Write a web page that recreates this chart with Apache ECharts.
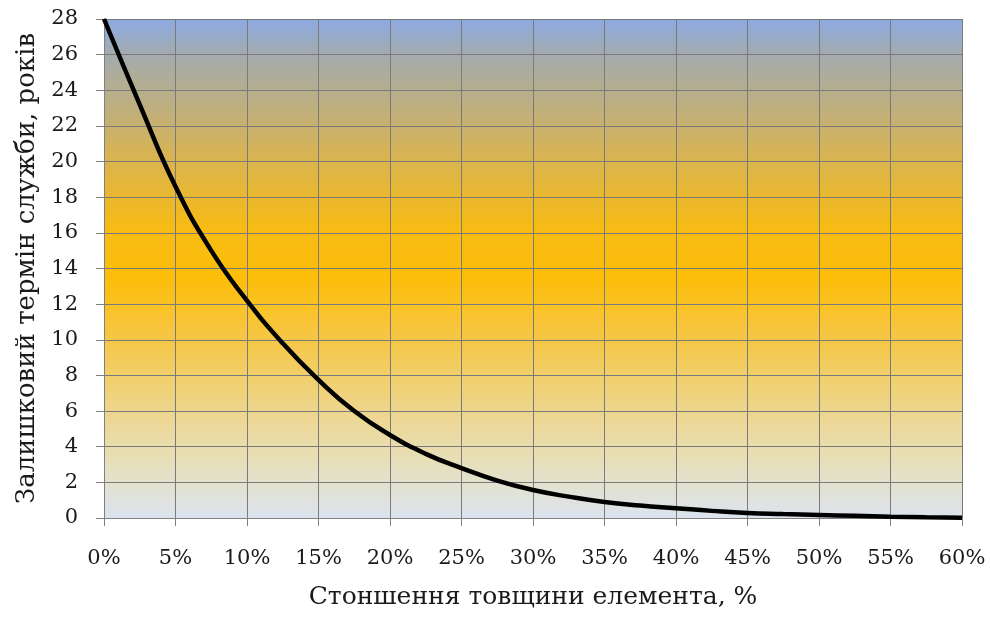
<!DOCTYPE html>
<html>
<head>
<meta charset="utf-8">
<script src="https://cdn.jsdelivr.net/npm/echarts@6/dist/echarts.min.js"></script>
<style>html,body{margin:0;padding:0;background:#fff}#c{width:990px;height:618px}</style>
</head>
<body>
<div id="c"></div>
<script>
// thinning of the element (fraction)
var thinning = [0, 0.025, 0.05, 0.075, 0.10, 0.125, 0.15, 0.175, 0.20, 0.225, 0.25, 0.275, 0.30, 0.325, 0.35, 0.375, 0.40, 0.425, 0.45, 0.475, 0.50, 0.525, 0.55, 0.575, 0.60];
// remaining service life, years
var lifeYears = [28, 23.2, 18.6, 15.0, 12.2, 9.8, 7.75, 6.0, 4.66, 3.6, 2.8, 2.1, 1.57, 1.2, 0.9, 0.7, 0.55, 0.4, 0.28, 0.22, 0.17, 0.12, 0.07, 0.04, 0.02];
var xTitle = 'Стоншення товщини елемента, %';
var yTitle = 'Залишковий термін служби, років';

var pts = thinning.map(function (x, i) { return [x, lifeYears[i]]; });
var font = '"DejaVu Serif", "Liberation Serif", serif';
var chart = echarts.init(document.getElementById('c'));
chart.setOption({
  animation: false,
  backgroundColor: '#ffffff',
  grid: {
    left: 104, right: 28, top: 19, bottom: 100,
    show: true, borderWidth: 0,
    backgroundColor: {
      type: 'linear', x: 0, y: 0, x2: 0, y2: 1,
      colorStops: [
        { offset: 0.00, color: '#8caae2' },
        { offset: 0.07, color: '#a3abaf' },
        { offset: 0.15, color: '#b7ae8a' },
        { offset: 0.29, color: '#dcb44c' },
        { offset: 0.42, color: '#f7bb14' },
        { offset: 0.52, color: '#fcbe0a' },
        { offset: 0.64, color: '#f6c746' },
        { offset: 0.78, color: '#eed58a' },
        { offset: 0.90, color: '#e6e0c0' },
        { offset: 1.00, color: '#dce3ef' }
      ]
    }
  },
  xAxis: {
    type: 'value', min: 0, max: 0.6, interval: 0.05,
    name: xTitle, nameLocation: 'middle', nameGap: 67,
    nameTextStyle: { fontFamily: font, fontSize: 25, color: '#1a1a1a' },
    axisLine: { show: true, lineStyle: { color: '#808080', width: 1 } },
    axisTick: { show: true, length: 8, lineStyle: { color: '#808080' } },
    splitLine: { show: true, lineStyle: { color: '#7a7a7a', width: 1 } },
    axisLabel: {
      fontFamily: font, fontSize: 21, color: '#1a1a1a', margin: 30,
      formatter: function (v) { return Math.round(v * 100) + '%'; }
    }
  },
  yAxis: {
    type: 'value', min: 0, max: 28, interval: 2,
    name: yTitle, nameLocation: 'middle', nameGap: 62, nameRotate: 90,
    nameTextStyle: { fontFamily: font, fontSize: 26, color: '#1a1a1a' },
    axisLine: { show: true, lineStyle: { color: '#808080', width: 1 } },
    axisTick: { show: true, length: 8, lineStyle: { color: '#808080' } },
    splitLine: { show: true, lineStyle: { color: '#7a7a7a', width: 1 } },
    axisLabel: { fontFamily: font, fontSize: 21, color: '#1a1a1a', margin: 26 }
  },
  series: [{
    type: 'line', data: pts, smooth: 0.5, symbol: 'none',
    lineStyle: { color: '#000000', width: 4.5 }
  }]
});
</script>
</body>
</html>
